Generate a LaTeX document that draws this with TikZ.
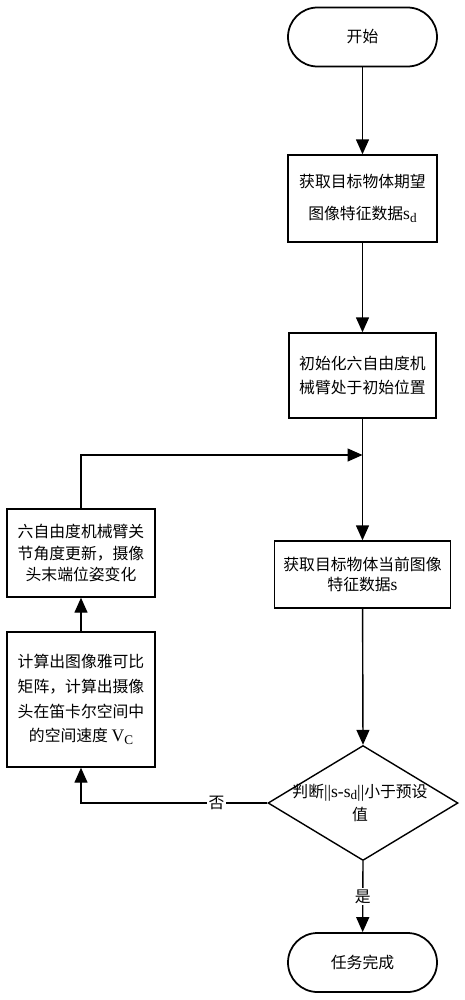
\documentclass[tikz,border=0pt]{standalone}
\usepackage{fontspec}
\setmainfont{Liberation Serif}
\newfontfamily\cjk{Noto Sans CJK SC}
\newfontfamily\tms{Liberation Serif}
\newcommand{\subd}[1]{\raisebox{-0.35ex}{\fontsize{7.5pt}{7.5pt}\selectfont #1}}
\usetikzlibrary{shapes,arrows.meta,positioning}

\begin{document}
\begin{tikzpicture}[
        every node/.style={font=\fontsize{9pt}{14pt}\selectfont\cjk},
        >={Triangle[length=0.3cm,width=0.26cm]},
        terminal/.style={draw, line width=1pt, rounded corners=0.59cm,
            minimum width=2.98cm, minimum height=1.18cm},
        procbox/.style={draw, line width=0.8pt, align=center, inner sep=0pt},
        flow/.style={line width=0.8pt}
    ]
        \useasboundingbox (0,0) rectangle (9.3,-20);

        % Start - rounded terminal
        \node[terminal] (start) at (7.25,-0.74) {开始};

        % Desired image features
        \node[procbox, minimum width=2.98cm, minimum height=1.74cm,
            font=\fontsize{9pt}{18pt}\selectfont\cjk] (desired) at (7.25,-3.97)
            {获取目标物体期望\\图像特征数据{\tms\fontsize{10pt}{10pt}\selectfont s\subd{d}}};

        % Initial pose of the arm
        \node[procbox, minimum width=2.94cm, minimum height=1.70cm] (init) at (7.25,-7.51)
            {初始化六自由度机\\械臂处于初始位置};

        % Current image features
        \node[procbox, minimum width=3.52cm, minimum height=1.34cm,
            font=\fontsize{9pt}{11.5pt}\selectfont\cjk] (current) at (7.25,-11.49)
            {获取目标物体当前图像\\特征数据{\tms\fontsize{10pt}{10pt}\selectfont s}};

        % Decision - diamond, text on top
        \node[draw, diamond, line width=0.8pt, minimum width=3.8cm, minimum height=2.3cm,
            inner sep=0pt] (judge) at (7.26,-16.06) {};
        \node[align=center, font=\fontsize{9pt}{13.6pt}\selectfont\cjk] (judgetxt) at (7.2,-16.06)
            {判断{\tms\fontsize{10pt}{10pt}\selectfont ||s-s\subd{d}||}小于预设\\值};

        % End - rounded terminal
        \node[terminal] (finish) at (7.25,-19.25) {任务完成};

        % Left column - update and compute
        \node[procbox, minimum width=2.96cm, minimum height=1.76cm,
            font=\fontsize{9pt}{12pt}\selectfont\cjk] (update) at (1.62,-11.06)
            {六自由度机械臂关\\节角度更新，摄像\\头末端位姿变化};
        \node[procbox, minimum width=2.96cm, minimum height=2.70cm] (compute) at (1.62,-13.99)
            {计算出图像雅可比\\矩阵，计算出摄像\\头在笛卡尔空间中\\的空间速度 {\tms\fontsize{10pt}{10pt}\selectfont V\subd{C}}};

        % Loop joins the main line here
        \coordinate (join) at (7.25,-9.10);

        % Main line
        \draw[flow,->] (start) -- (desired);
        \draw[flow,->] (desired) -- (init);
        \draw[flow,->] (init) -- (current);
        \draw[flow,->] (current) -- (judge.north);
        \draw[flow,->] (judge.south) -- node[fill=white, inner sep=1pt] (yes) {是} (finish);

        % Loop back on the left
        \draw[flow,->] (judge.west) -- node[pos=0.275, fill=white, inner sep=1pt] (no) {否}
            ++(-3.7,0) -| (compute.south);
        \draw[flow,->] (compute) -- (update);
        \draw[flow,->] (update.north) |- (join);

    \end{tikzpicture}
\end{document}
